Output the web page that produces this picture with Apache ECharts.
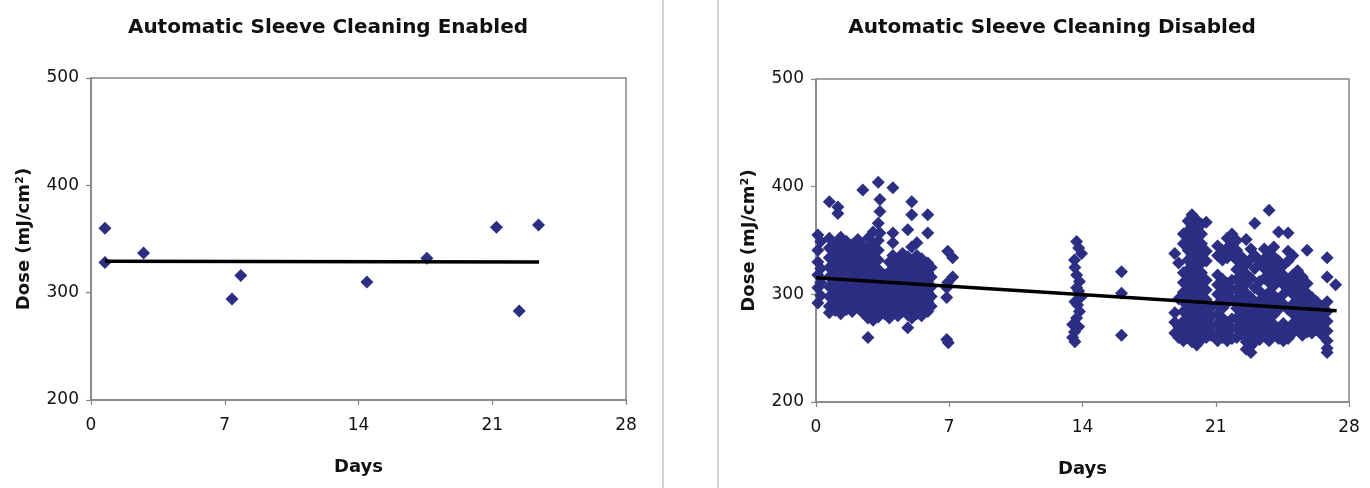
<!DOCTYPE html>
<html><head><meta charset="utf-8">
<script src="https://cdn.jsdelivr.net/npm/echarts@6/dist/echarts.min.js"></script>
<style>html,body{margin:0;padding:0;background:#fff}#c{width:1370px;height:488px}</style>
</head><body><div id="c"></div><script>
// ---- tick labels / titles ----
const xTickInterval = 7, xMin = 0, xMax = 28;
const yTickInterval = 100, yMin = 200, yMax = 500;
const titles = ['Automatic Sleeve Cleaning Enabled', 'Automatic Sleeve Cleaning Disabled'];
const xName = 'Days';
const yName = 'Dose (mJ/cm²)';

// ---- Enabled panel ----
const enabledDays = [0.73, 0.73, 2.75, 7.38, 7.84, 14.44, 17.58, 21.22, 22.41, 23.42];
const enabledDose = [360, 328, 337, 294, 316, 310, 332, 361, 283, 363];
const enabledTrend = [[0.73, 329.3], [23.45, 328.6]];

// ---- Disabled panel: columns [day, dose, dose, ...] ----
const disabledWeek1 = [
  [0.1, 355, 341, 330, 318, 306, 292],
  [0.25, 349, 324, 311, 299],
  [0.7, 386, 352, 343, 334, 325, 316, 307, 298, 289, 283],
  [1.0, 347, 338, 329, 320, 311, 302, 293, 285],
  [1.15, 381, 375],
  [1.3, 353, 344, 335, 326, 317, 308, 299, 290, 282],
  [1.6, 349, 340, 331, 322, 313, 304, 295, 286],
  [1.9, 346, 337, 328, 319, 310, 301, 292, 284],
  [2.2, 351, 342, 333, 324, 315, 306, 297, 288],
  [2.46, 397, 345, 336, 327, 318, 309, 300, 291, 283],
  [2.73, 260, 352, 340, 331, 322, 313, 304, 295, 286, 278],
  [3.0, 358, 346, 337, 328, 319, 310, 301, 292, 283, 276],
  [3.27, 404, 366, 350, 341, 332, 323, 314, 305, 296, 287, 279],
  [3.36, 388, 377, 357],
  [3.6, 318, 309, 300, 291, 282],
  [3.85, 330, 321, 312, 303, 294, 285, 278],
  [4.04, 399, 357, 348, 336, 327, 318, 309, 300, 291, 282],
  [4.3, 333, 324, 315, 306, 297, 288, 280],
  [4.55, 338, 329, 320, 311, 302, 293, 284],
  [4.82, 360, 335, 326, 317, 308, 299, 290, 281, 269],
  [5.03, 386, 374, 344, 331, 322, 313, 304, 295, 286, 278],
  [5.3, 348, 336, 327, 318, 309, 300, 291, 282],
  [5.55, 333, 324, 315, 306, 297, 288, 280],
  [5.87, 374, 357, 329, 320, 311, 302, 293, 284],
  [6.05, 325, 316, 307, 298, 289]
];
const disabledDay7 = [
  [6.92, 340, 311],
  [7.18, 334, 316],
  [6.87, 306, 297, 258],
  [6.95, 255]
];
const disabledDay14 = [
  [13.69, 349, 318, 306, 278],
  [13.95, 338, 298],
  [13.58, 332, 265],
  [13.84, 312, 284],
  [13.74, 290],
  [13.48, 272, 260],
  [13.6, 325, 293, 256],
  [13.8, 343, 303, 270]
];
const disabledDay16 = [
  [16.05, 321, 301, 262]
];
const disabledWeek3 = [
  [18.85, 338, 283, 274, 264],
  [19.05, 329, 296, 270, 260],
  [19.3, 356, 347, 320, 311, 302, 293, 284, 275, 266, 257],
  [19.55, 368, 359, 350, 341, 332, 323, 314, 305, 296, 287, 278, 269, 260],
  [19.75, 374, 364, 355, 346, 337, 328, 319, 310, 301, 292, 283, 274, 265, 256],
  [20.0, 369, 360, 351, 342, 333, 324, 315, 306, 297, 288, 279, 270, 261, 253],
  [20.25, 365, 356, 347, 338, 329, 320, 311, 302, 293, 284, 275, 266, 258],
  [20.5, 367, 340, 331, 313, 304, 295, 286, 277, 268, 260],
  [20.75, 288, 279, 270, 262],
  [21.1, 345, 336, 318, 309, 300, 291, 282, 273, 264, 257],
  [21.35, 341, 332, 314, 305, 296, 287, 278, 269, 260],
  [21.6, 352, 343, 334, 310, 301, 292, 274, 265, 257],
  [21.85, 356, 347, 338, 313, 304, 295, 277, 268, 259],
  [22.1, 350, 341, 332, 323, 314, 305, 296, 287, 278, 269, 260],
  [22.35, 335, 326, 317, 308, 299, 290, 281, 272, 263],
  [22.6, 351, 328, 319, 310, 301, 292, 283, 274, 265, 256, 249]
];
const disabledWeek4 = [
  [22.85, 342, 333, 315, 297, 288, 279, 270, 261, 252, 246],
  [23.05, 366, 336, 324, 306, 292, 283, 274, 265, 256],
  [23.3, 330, 312, 303, 294, 285, 276, 267, 258],
  [23.55, 342, 333, 324, 315, 297, 288, 279, 270, 261],
  [23.8, 378, 338, 329, 320, 311, 302, 293, 284, 275, 266, 257],
  [24.05, 344, 335, 326, 317, 308, 299, 290, 281, 272, 263],
  [24.3, 358, 331, 322, 313, 295, 286, 268, 259],
  [24.55, 327, 318, 309, 300, 291, 273, 264, 257],
  [24.8, 357, 340, 331, 313, 304, 286, 268, 259],
  [25.05, 336, 318, 309, 300, 291, 282, 273, 264],
  [25.3, 322, 313, 304, 295, 286, 277, 268],
  [25.55, 316, 307, 298, 289, 280, 271, 262],
  [25.8, 341, 310, 301, 292, 283, 274, 265],
  [26.05, 297, 288, 279, 270, 264],
  [26.3, 293, 284, 275, 267],
  [26.6, 289, 280, 271, 262],
  [26.85, 334, 316, 293, 284, 275, 266, 257, 250, 246],
  [27.3, 309]
];
const disabledTrend = [[0, 315.5], [27.35, 284.8]];

// ---- build ----
function fromColumns(cols) {
  const out = [];
  cols.forEach(r => { for (let i = 1; i < r.length; i++) out.push([r[0], r[i]]); });
  return out;
}
const enabledPts = enabledDays.map((d, i) => [d, enabledDose[i]]);
const disabledPts = [].concat(
  fromColumns(disabledWeek1), fromColumns(disabledDay7), fromColumns(disabledDay14),
  fromColumns(disabledDay16), fromColumns(disabledWeek3), fromColumns(disabledWeek4)
);

const FONT = 'DejaVu Sans';
const MARK = '#2B2E83';
const AXIS = '#858585';

function xAxisCfg(gi) {
  return {
    gridIndex: gi, type: 'value', min: xMin, max: xMax, interval: xTickInterval,
    name: xName, nameLocation: 'middle', nameGap: 58,
    nameTextStyle: { fontFamily: FONT, fontWeight: 'bold', fontSize: 18, color: '#111' },
    axisLine: { show: true, lineStyle: { color: AXIS, width: 1.5 } },
    axisTick: { show: true, length: 5, lineStyle: { color: AXIS, width: 1.2 } },
    axisLabel: { fontFamily: FONT, fontSize: 17, color: '#111', margin: 17 },
    splitLine: { show: false }
  };
}
function yAxisCfg(gi) {
  return {
    gridIndex: gi, type: 'value', min: yMin, max: yMax, interval: yTickInterval,
    name: yName, nameLocation: 'middle', nameGap: 58, nameRotate: 90,
    nameTextStyle: { fontFamily: FONT, fontWeight: 'bold', fontSize: 18, color: '#111' },
    axisLine: { show: true, lineStyle: { color: AXIS, width: 1.5 } },
    axisTick: { show: true, length: 5, lineStyle: { color: AXIS, width: 1.2 } },
    axisLabel: { fontFamily: FONT, fontSize: 17, color: '#111', margin: 12 },
    splitLine: { show: false }
  };
}

const chart = echarts.init(document.getElementById('c'), null, { renderer: 'canvas' });
chart.setOption({
  animation: false,
  backgroundColor: '#ffffff',
  grid: [
    { left: 91, top: 78, width: 535, height: 322, show: true, borderColor: AXIS, borderWidth: 1.5, backgroundColor: 'transparent' },
    { left: 816, top: 79, width: 533, height: 323, show: true, borderColor: AXIS, borderWidth: 1.5, backgroundColor: 'transparent' }
  ],
  xAxis: [xAxisCfg(0), xAxisCfg(1)],
  yAxis: [yAxisCfg(0), yAxisCfg(1)],
  graphic: [
    { type: 'text', x: 328, y: 28, style: { text: titles[0], font: 'bold 20px "DejaVu Sans"', fill: '#111', textAlign: 'center', textVerticalAlign: 'middle' } },
    { type: 'text', x: 1052, y: 28, style: { text: titles[1], font: 'bold 20px "DejaVu Sans"', fill: '#111', textAlign: 'center', textVerticalAlign: 'middle' } },
    { type: 'line', shape: { x1: 663, y1: 0, x2: 663, y2: 488 }, style: { stroke: '#d0d0d0', lineWidth: 2 } },
    { type: 'line', shape: { x1: 718, y1: 0, x2: 718, y2: 488 }, style: { stroke: '#d0d0d0', lineWidth: 2 } }
  ],
  series: [
    { type: 'scatter', xAxisIndex: 0, yAxisIndex: 0, data: enabledPts, symbol: 'diamond', symbolSize: 13, itemStyle: { color: MARK, opacity: 1 }, z: 2 },
    { type: 'line', xAxisIndex: 0, yAxisIndex: 0, data: enabledTrend, symbol: 'none', lineStyle: { color: '#000', width: 3.5 }, z: 3 },
    { type: 'scatter', xAxisIndex: 1, yAxisIndex: 1, data: disabledPts, symbol: 'diamond', symbolSize: 13, itemStyle: { color: MARK, opacity: 1 }, z: 2 },
    { type: 'line', xAxisIndex: 1, yAxisIndex: 1, data: disabledTrend, symbol: 'none', lineStyle: { color: '#000', width: 3.5 }, z: 3 }
  ]
});
</script></body></html>
